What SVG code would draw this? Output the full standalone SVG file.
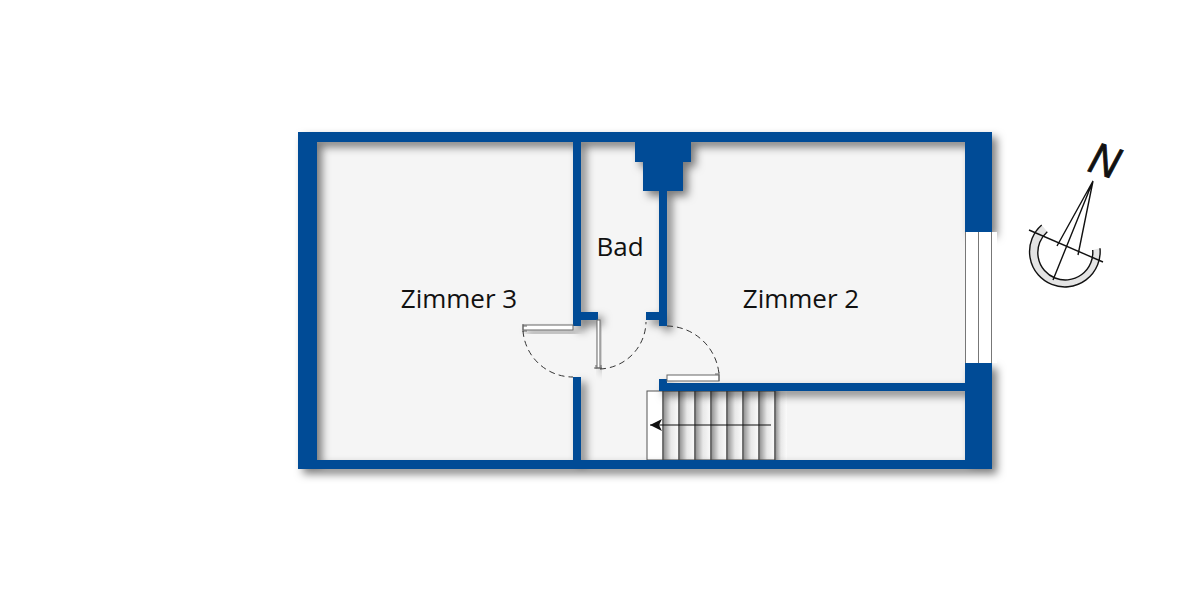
<svg xmlns="http://www.w3.org/2000/svg" width="1200" height="600" viewBox="0 0 1200 600">
<style>
.wall{fill:#064c96}
.label{font-family:"Open Sans","Liberation Sans",sans-serif;font-size:26px;fill:#111;text-anchor:middle}
.arc{fill:none;stroke:#333;stroke-width:1;stroke-dasharray:6 4}
.leaf{fill:#fff;stroke:#666;stroke-width:1}
.step{fill:url(#tread);stroke:#444;stroke-width:1}
.nl{fill:none;stroke:#111;stroke-width:1.4}
</style>
<defs>
<filter id="sh" x="-5%" y="-5%" width="112%" height="115%"><feDropShadow dx="5" dy="5" stdDeviation="4" flood-color="#000" flood-opacity=".5"/></filter>
<filter id="sh2" x="-30%" y="-30%" width="180%" height="200%"><feDropShadow dx="4" dy="5" stdDeviation="3.500" flood-color="#000" flood-opacity=".35"/></filter>
<linearGradient id="tread"><stop offset="0" stop-color="#8c8c8c"/><stop offset=".5" stop-color="#e8e8e8"/><stop offset="1" stop-color="#fbfbfb"/></linearGradient>
<marker id="ah" markerWidth="13" markerHeight="12" refX="12" refY="6" orient="auto" markerUnits="userSpaceOnUse"><path d="M12 6L0 0L3 6L0 12Z" fill="#111"/></marker>
</defs>
<rect width="1200" height="600" fill="#fff"/>
<rect x="310" y="140" width="660" height="325" fill="#f5f5f5"/>
<g id="stairs">
<rect x="647" y="391" width="16" height="69" fill="#fff" stroke="#555"/>
<rect class="step" x="663" y="391" width="16" height="69"/>
<rect class="step" x="679" y="391" width="16" height="69"/>
<rect class="step" x="695" y="391" width="16" height="69"/>
<rect class="step" x="711" y="391" width="16" height="69"/>
<rect class="step" x="727" y="391" width="16" height="69"/>
<rect class="step" x="743" y="391" width="16" height="69"/>
<rect class="step" x="759" y="391" width="16" height="69"/>
<rect x="775" y="391" width="12" height="69" fill="url(#tread)"/>
<line x1="775" y1="391" x2="775" y2="460" stroke="#444"/>
<line x1="771" y1="425" x2="650" y2="425" stroke="#111" stroke-width="1.2" marker-end="url(#ah)"/>
</g>
<g id="walls" filter="url(#sh)" class="wall">
<rect x="298" y="132" width="694" height="10"/>
<rect x="298" y="460" width="694" height="9"/>
<rect x="298" y="132" width="19" height="337"/>
<rect x="965" y="132" width="27" height="100"/>
<rect x="965" y="363" width="27" height="106"/>
<rect x="573" y="132" width="8" height="194"/>
<rect x="573" y="312" width="25" height="8"/>
<rect x="573" y="377" width="8" height="90"/>
<rect x="635" y="132" width="56" height="30"/>
<rect x="643" y="132" width="40" height="59"/>
<rect x="659" y="160" width="8" height="166"/>
<rect x="646" y="312" width="21" height="8"/>
<rect x="659" y="379" width="8" height="12"/>
<rect x="659" y="383" width="308" height="8"/>
</g>
<g id="window">
<rect x="965" y="232" width="32" height="131" fill="#fff"/>
<path d="M965.500 232V363M978.500 232V363M991.500 232V363" stroke="#777" fill="none"/>
</g>
<g id="doors">
<rect class="leaf" x="523" y="325" width="50" height="5" filter="url(#sh2)"/>
<path class="leaf" d="M523 324V332M523 326H527M523 331H527"/>
<path class="arc" d="M523 331A50 50 0 0 0 573 377"/>
<rect class="leaf" x="597" y="320" width="3" height="48" filter="url(#sh2)"/>
<path class="leaf" d="M594 368H602M596 365V369M601 365V369"/>
<path class="arc" d="M600 369A48 48 0 0 0 646 322"/>
<rect class="leaf" x="667" y="375" width="52" height="6"/>
<path class="leaf" d="M719 372V381M715 374H719"/>
<path class="arc" d="M667 326A53 53 0 0 1 719 374"/>
</g>
<g id="north">
<path d="M1041.700 225A35.300 35.300 0 1 0 1100 248.300L1092.700 250A27.500 27.500 0 1 1 1047.300 231.700Z" fill="#e4e4e4"/>
<path class="nl" d="M1041.700 225A35.300 35.300 0 1 0 1100 248.300M1092.700 250A27.500 27.500 0 1 1 1047.300 231.700"/>
<line class="nl" x1="1029" y1="230" x2="1103" y2="262"/>
<path class="nl" d="M1093 181L1057 246M1093 181L1078 255M1093 181L1053 280"/>
<text transform="translate(1105 160) rotate(18) scale(.95 1.05)" font-family="Liberation Sans,sans-serif" font-style="italic" font-size="42" fill="#111" stroke="#111" stroke-width=".9" text-anchor="middle" y="15">N</text>
</g>
<text id="z3" class="label" x="459" y="308">Zimmer 3</text>
<text id="bad" class="label" x="620" y="256">Bad</text>
<text id="z2" class="label" x="801" y="308">Zimmer 2</text>
</svg>
